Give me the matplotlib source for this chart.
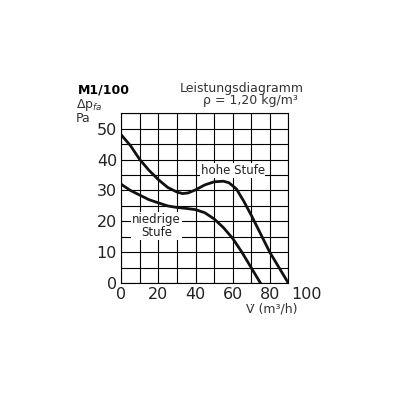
import matplotlib
matplotlib.use("Agg")
import matplotlib.pyplot as plt

hi_x = [0, 5, 10, 15, 20, 25, 30, 33, 36, 40, 45, 50, 55, 58, 62, 66, 70, 75, 80, 85, 90]
hi_y = [48, 44.5, 40, 36.5, 33.5, 31, 29.5, 29, 29.2, 30.2, 31.8, 32.8, 33, 32.5, 30.5, 26.5, 22, 16, 10, 5, 0]
lo_x = [0, 5, 10, 15, 20, 25, 30, 35, 40, 45, 50, 55, 60, 65, 70, 75]
lo_y = [32, 30, 28.5, 27, 26, 25, 24.5, 24.2, 23.8, 22.8, 20.8, 18, 14.5, 10, 5, 0]

fig = plt.figure(figsize=(4, 4), dpi=100)
ax = fig.add_axes([0.303, 0.292, 0.418, 0.425])
ax.set_xlim(0, 90)
ax.set_ylim(0, 55)
ax.set_xticks(range(0, 91, 10), minor=True)
ax.set_yticks(range(0, 56, 5), minor=True)
ax.grid(True, which='both', color='black', lw=0.8)
ax.set_axisbelow(True)
ax.set_xticks([0, 20, 40, 60, 80])
ax.set_yticks([0, 10, 20, 30, 40, 50])
ax.tick_params(which='both', length=0, labelsize=11.5, pad=3, labelcolor='#222222')
for s in ax.spines.values():
    s.set_linewidth(0.8)
ax.plot(hi_x, hi_y, color='#111111', lw=2)
ax.plot(lo_x, lo_y, color='#111111', lw=2)
ax.text(60, 36.5, 'hohe Stufe', ha='center', va='center', fontsize=8.5, color='#222222',
        bbox=dict(facecolor='white', edgecolor='none', pad=0.5))
ax.text(19, 18.5, 'niedrige\nStufe', ha='center', va='center', fontsize=8.5, linespacing=1.0,
        color='#222222', bbox=dict(facecolor='white', edgecolor='none', pad=0.5))
ax.annotate('100', xy=(100, 0), xycoords='data', xytext=(0, -3), textcoords='offset points',
            ha='center', va='top', fontsize=11.5, color='#222222', annotation_clip=False)
fig.text(0.68, 0.245, 'V̇ (m³/h)', fontsize=9, ha='center', va='top', color='#333333')
fig.text(0.195, 0.775, 'M1/100', fontsize=9, fontweight='bold', va='center')
fig.text(0.19, 0.738, 'Δp$_{fa}$', fontsize=9, va='center', color='#333333')
fig.text(0.19, 0.705, 'Pa', fontsize=9, va='center', color='#333333')
fig.text(0.76, 0.778, 'Leistungsdiagramm', fontsize=9, ha='right', va='center', color='#333333')
fig.text(0.745, 0.748, 'ρ = 1,20 kg/m³', fontsize=9, ha='right', va='center', color='#333333')
fig.savefig('out.png', dpi=100)
